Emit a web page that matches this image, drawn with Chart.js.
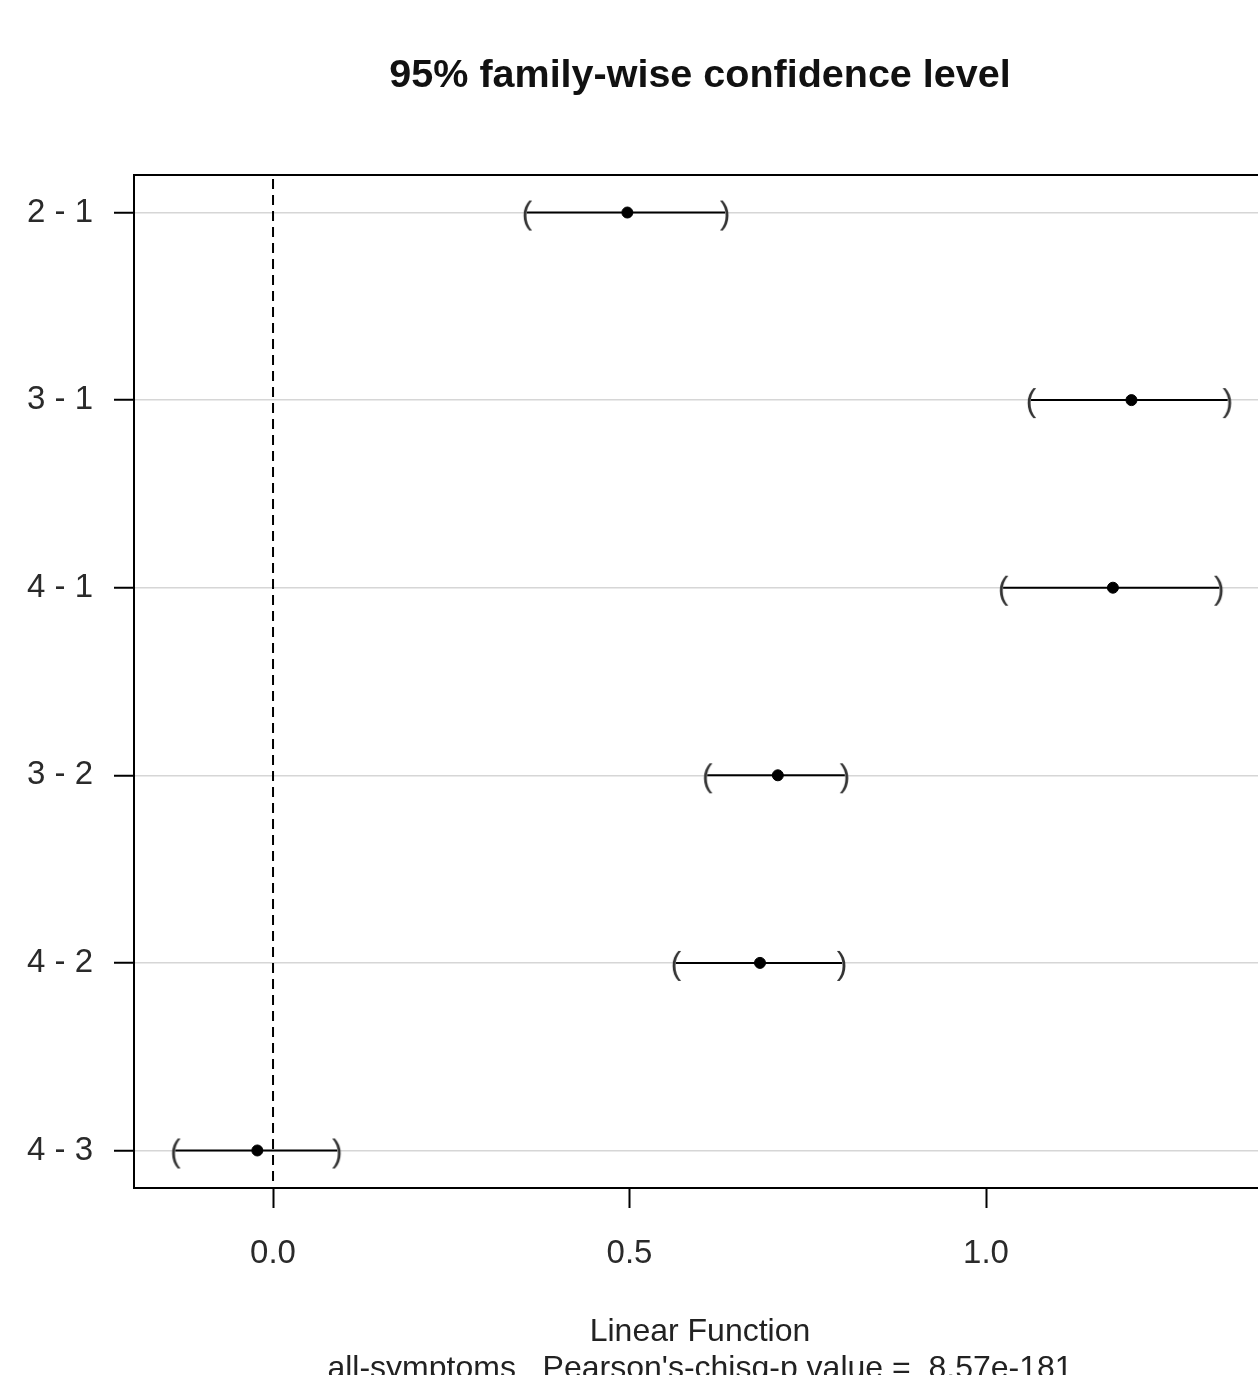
<!DOCTYPE html>
<html lang="en">
<head>
<meta charset="UTF-8">
<title>95% family-wise confidence level</title>
<script src="https://cdn.jsdelivr.net/npm/chart.js"></script>
<style>
    html, body {
        margin: 0;
        padding: 0;
        background: #fff;
    }
</style>
</head>
<body>
<canvas id="ciChart" width="1258" height="1375"></canvas>

<script>
    // data (Tukey-style contrasts)
    const comparisons = ['2 - 1', '3 - 1', '4 - 1', '3 - 2', '4 - 2', '4 - 3'];
    const estimates = [0.497, 1.204, 1.178, 0.708, 0.683, -0.022];
    const lowerCI = [0.356, 1.063, 1.024, 0.609, 0.565, -0.137];
    const upperCI = [0.634, 1.339, 1.327, 0.802, 0.798, 0.090];
    const xTicks = [0, 0.5, 1.0];
    const titleText = '95% family-wise confidence level';
    const xLabel = 'Linear Function';
    const subLabel = "all-symptoms   Pearson's-chisq-p value =  8.57e-181";

    const FONT = "'Liberation Sans', Arial, sans-serif";

    // first comparison sits at the top
    const rowPos = comparisons.map((c, i) => comparisons.length - i);

    // little canvases with "(" and ")" used as point styles for the CI ends
    function parenImage(ch) {
        const c = document.createElement('canvas');
        c.width = 18;
        c.height = 44;
        const g = c.getContext('2d');
        g.fillStyle = '#333';
        g.font = '32px ' + FONT;
        g.textAlign = 'center';
        g.textBaseline = 'middle';
        g.fillText(ch, 9, 24);
        return c;
    }
    const leftParen = parenImage('(');
    const rightParen = parenImage(')');

    const ciDatasets = comparisons.map((c, i) => ({
        type: 'line',
        label: c,
        data: [{ x: lowerCI[i], y: rowPos[i] }, { x: upperCI[i], y: rowPos[i] }],
        borderColor: '#000',
        borderWidth: 2,
        pointStyle: [leftParen, rightParen],
        pointRadius: 1,
        pointHoverRadius: 1
    }));

    const estDataset = {
        type: 'scatter',
        label: 'estimate',
        data: estimates.map((v, i) => ({ x: v, y: rowPos[i] })),
        backgroundColor: '#000',
        borderColor: '#000',
        pointRadius: 5.5
    };

    const decorPlugin = {
        id: 'decor',
        beforeDatasetsDraw(chart) {
            const { ctx, chartArea } = chart;
            const x0 = chart.scales.x.getPixelForValue(0);
            ctx.save();
            ctx.strokeStyle = '#000';
            ctx.lineWidth = 2;
            ctx.setLineDash([10, 6]);
            ctx.beginPath();
            ctx.moveTo(x0, chartArea.top + 4);
            ctx.lineTo(x0, chartArea.bottom);
            ctx.stroke();
            ctx.restore();
        },
        afterDraw(chart) {
            const { ctx, chartArea } = chart;
            ctx.save();
            // top border of the box
            ctx.strokeStyle = '#000';
            ctx.lineWidth = 2;
            ctx.beginPath();
            ctx.moveTo(chartArea.left - 1, chartArea.top);
            ctx.lineTo(chartArea.right, chartArea.top);
            ctx.stroke();

            const cx = 700;
            ctx.textAlign = 'center';
            ctx.textBaseline = 'middle';
            ctx.fillStyle = '#111';
            ctx.font = 'bold 39.5px ' + FONT;
            ctx.fillText(titleText, cx, 76);

            ctx.fillStyle = '#222';
            ctx.font = '32px ' + FONT;
            ctx.fillText(xLabel, cx, 1332);
            ctx.fillText(subLabel, cx, 1369);
            ctx.restore();
        }
    };

    new Chart(document.getElementById('ciChart'), {
        data: { datasets: [...ciDatasets, estDataset] },
        options: {
            responsive: false,
            animation: false,
            layout: {
                autoPadding: false,
                padding: { top: 175, left: 0, right: 0, bottom: 0 }
            },
            plugins: {
                legend: { display: false },
                tooltip: { enabled: false }
            },
            scales: {
                x: {
                    type: 'linear',
                    min: -0.195,
                    max: 1.3815,
                    afterBuildTicks: s => { s.ticks = xTicks.map(v => ({ value: v })); },
                    afterFit: s => { s.height = 187; },
                    grid: {
                        drawOnChartArea: false,
                        tickLength: 20,
                        tickColor: '#000',
                        tickWidth: 2
                    },
                    border: { display: true, color: '#000', width: 2 },
                    ticks: {
                        padding: 26,
                        color: '#2a2a2a',
                        font: { family: FONT, size: 33 },
                        callback: v => v.toFixed(1)
                    }
                },
                y: {
                    type: 'linear',
                    min: 0.8,
                    max: 6.2,
                    afterBuildTicks: s => { s.ticks = rowPos.map(v => ({ value: v })); },
                    afterFit: s => { s.width = 134; },
                    grid: {
                        color: '#d6d6d6',
                        lineWidth: 1.5,
                        tickLength: 20,
                        tickColor: '#000',
                        tickWidth: 2
                    },
                    border: { display: true, color: '#000', width: 2 },
                    ticks: {
                        padding: 21,
                        color: '#2a2a2a',
                        font: { family: FONT, size: 33 },
                        callback: v => comparisons[rowPos.indexOf(v)]
                    }
                }
            }
        },
        plugins: [decorPlugin]
    });
</script>
</body>
</html>
